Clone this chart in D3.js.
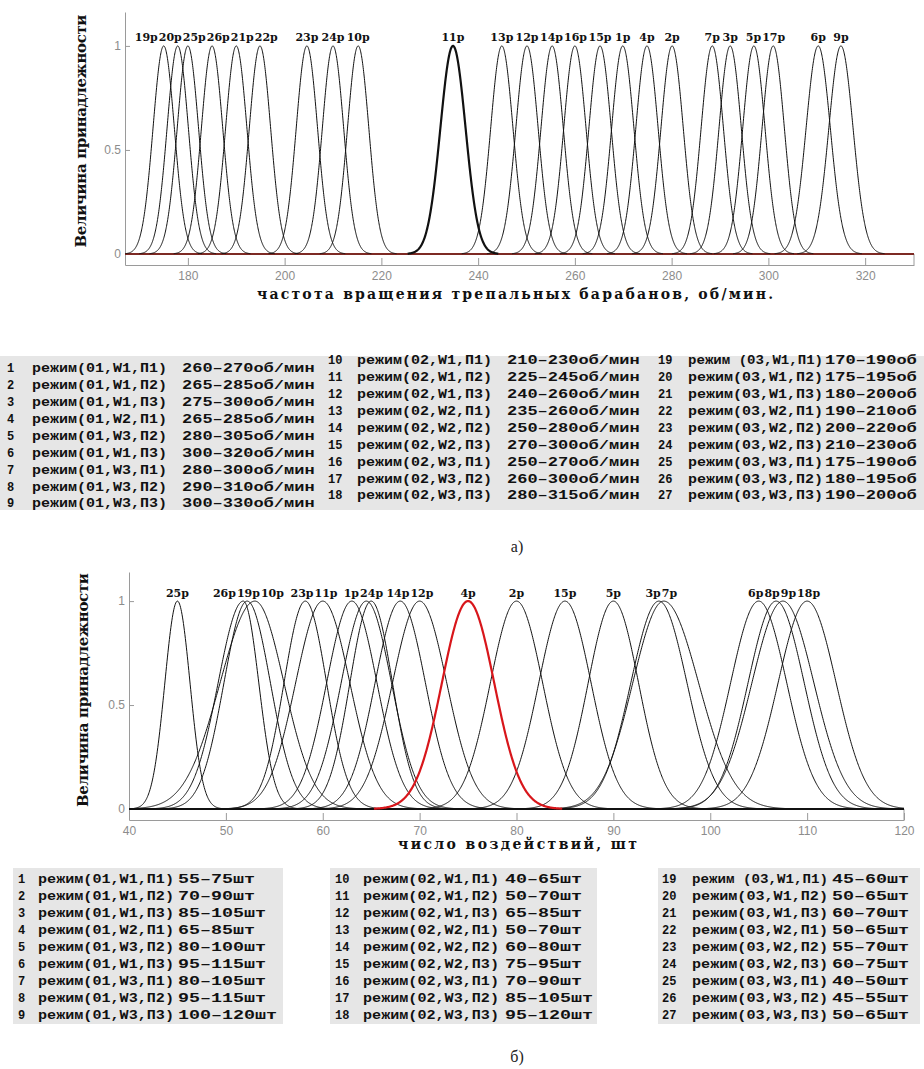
<!DOCTYPE html>
<html>
<head>
<meta charset="utf-8">
<script src="https://cdn.jsdelivr.net/npm/d3@7"></script>
<style>
  body { margin: 0; background: #fff; }
  svg { display: block; }
</style>
</head>
<body>
<svg id="fig" width="924" height="1069"></svg>
<script>
// ---------- panel а) : speed of beater drums ----------
const aLabels = ["19р","20р","25р","26р","21р","22р","23р","24р","10р","11р","13р","12р","14р",
                 "16р","15р","1р","4р","2р","7р","3р","5р","17р","6р","9р"];
const aCenters = [175,177.9,180,185,190,194.9,204.6,210,215.2,234.8,244.9,250.1,255.3,
                  260,265.2,269.9,274.9,280.1,288.4,292.1,297,301,310.3,315];
const aSigma = [2.2,2.2,2.2,2.2,2.2,2.2,2.2,2.2,2.2,2.6,2.3,2.3,2.3,
                2.3,2.3,2.3,2.3,2.3,2.3,2.3,2.3,2.3,2.5,2.5];
const aXTicks = [180,200,220,240,260,280,300,320];
const aRanges = ["260–270","265–285","275–300","265–285","280–305","300–320","280–300","290–310","300–330",
                 "210–230","225–245","240–260","235–260","250–280","270–300","250–270","260–300","280–315",
                 "170–190","175–195","180–200","190–210","200–220","210–230","175–190","180–195","190–200"];
// the scan cuts the third column at the page edge
const aUnits = ["об/мин","об/мин","об"];

// ---------- panel б) : number of impacts ----------
const bLabels = ["25р","26р","19р","10р","23р","11р","1р","","24р","14р","12р","4р","2р","15р",
                 "5р","3р","7р","6р","8р","9р","18р"];
const bCenters = [45,51.8,52.2,53,58.2,60,63,64.5,65,68,70,75,80,85,90,94.7,95.2,105,106.8,107.5,110];
const bSigmaL = [1.3,2.6,2.4,3.6,2.2,2.8,2.6,2.6,2.2,2.6,2.8,2.7,2.7,2.7,2.6,2.9,3.2,2.9,2.9,3.2,3.0];
const bSigmaR = [1.3,1.6,2.4,3.0,2.2,2.8,2.6,2.6,2.2,2.6,2.8,2.7,2.7,2.7,2.6,2.9,3.6,2.9,2.9,3.2,3.0];
const bXTicks = [40,50,60,70,80,90,100,110,120];
const bRanges = ["55–75","70–90","85–105","65–85","80–100","95–115","80–105","95–115","100–120",
                 "40–65","50–70","65–85","50–70","60–80","75–95","70–90","85–105","95–120",
                 "45–60","50–65","60–70","50–65","55–70","60–75","40–50","45–55","50–65"];
const bUnits = ["шт","шт","шт"];

// regimes shared by both tables
const modes = ["(01,W1,П1)","(01,W1,П2)","(01,W1,П3)","(01,W2,П1)","(01,W3,П2)","(01,W1,П3)","(01,W3,П1)","(01,W3,П2)","(01,W3,П3)",
               "(02,W1,П1)","(02,W1,П2)","(02,W1,П3)","(02,W2,П1)","(02,W2,П2)","(02,W2,П3)","(02,W3,П1)","(02,W3,П2)","(02,W3,П3)",
               " (03,W1,П1)","(03,W1,П2)","(03,W1,П3)","(03,W2,П1)","(03,W2,П2)","(03,W2,П3)","(03,W3,П1)","(03,W3,П2)","(03,W3,П3)"];

const svg = d3.select("#fig");

function bell(c, sl, sr) {
    return v => Math.exp(-Math.pow(v - c, 2) / (2 * Math.pow(v < c ? sl : sr, 2)));
}

// push overlapping labels apart, keeping clusters centred on their peaks
function spread(nodes, gap) {
    nodes.sort((a, b) => a.x - b.x);
    for (let it = 0; it < 400; it++) {
        let moved = false;
        for (let i = 1; i < nodes.length; i++) {
            let a = nodes[i - 1], b = nodes[i];
            let need = (a.w + b.w) / 2 + gap;
            let d = b.x - a.x;
            if (d < need - 0.01) {
                let s = (need - d) / 2;
                a.x -= s; b.x += s; moved = true;
            }
        }
        if (!moved) break;
    }
}

function drawPanel(p) {
    let x = d3.scaleLinear().domain(p.xDomain).range(p.xRange);
    let y = d3.scaleLinear().domain(p.yDomain).range(p.yRange);
    let g = svg.append("g");

    // axes (matlab-like, ticks inside)
    let xa = g.append("g")
        .attr("transform", "translate(0," + p.yRange[0] + ")")
        .call(d3.axisBottom(x).tickValues(p.xTicks).tickSizeInner(-7).tickSizeOuter(0).tickPadding(6));
    let ya = g.append("g")
        .attr("transform", "translate(" + p.xRange[0] + ",0)")
        .call(d3.axisLeft(y).tickValues([0, 0.5, 1]).tickSizeInner(-5).tickSizeOuter(0).tickPadding(4)
            .tickFormat(d => d === 0.5 ? "0.5" : d));
    [xa, ya].forEach(a => {
        a.select(".domain").attr("stroke", "#9a9a9a");
        a.selectAll(".tick line").attr("stroke", "#9a9a9a");
        a.selectAll(".tick text").attr("fill", "#8c8c8c")
            .style("font", "12px 'Liberation Sans', Arial, sans-serif");
    });

    // little box between y=0 and the bottom axis on the right
    g.append("line")
        .attr("x1", p.xRange[1]).attr("x2", p.xRange[1])
        .attr("y1", y(0)).attr("y2", p.yRange[0])
        .attr("stroke", "#9a9a9a");

    // membership functions
    let line = d3.line().x(d => x(d[0])).y(d => y(d[1]));
    let curves = p.centers.map((c, i) => {
        let sl = p.sigmaL[i], sr = p.sigmaR[i];
        let f = bell(c, sl, sr);
        let lo = Math.max(p.xDomain[0], c - 3.6 * sl);
        let hi = Math.min(p.xDomain[1], c + 3.6 * sr);
        let pts = d3.range(lo, hi, 0.05).map(v => [v, f(v)]);
        pts.push([hi, f(hi)]);
        return { label: p.labels[i], pts: pts, c: c };
    });

    g.append("line")
        .attr("x1", p.xRange[0]).attr("x2", p.xRange[1])
        .attr("y1", y(0)).attr("y2", y(0))
        .attr("stroke", p.baseColor).attr("stroke-width", 2);

    g.selectAll(".mf")
        .data(curves.filter(d => d.label !== p.special))
        .enter().append("path")
        .attr("class", "mf")
        .attr("d", d => line(d.pts))
        .attr("fill", "none")
        .attr("stroke", "#111")
        .attr("stroke-width", 1);

    g.selectAll(".mfs")
        .data(curves.filter(d => d.label === p.special))
        .enter().append("path")
        .attr("d", d => line(d.pts))
        .attr("fill", "none")
        .attr("stroke", p.specialColor)
        .attr("stroke-width", 2.2);

    // peak labels
    let labs = g.selectAll(".plab")
        .data(curves.filter(d => d.label !== ""))
        .enter().append("text")
        .attr("class", "plab")
        .attr("y", p.labelY)
        .attr("text-anchor", "middle")
        .style("font", "bold 11px 'DejaVu Serif', serif")
        .attr("fill", "#111")
        .text(d => d.label);
    let nodes = [];
    labs.each(function (d) { nodes.push({ d: d, x: x(d.c), w: this.getComputedTextLength(), el: this }); });
    spread(nodes, 1);
    nodes.forEach(n => d3.select(n.el).attr("x", n.x));

    // axis titles
    g.append("text")
        .attr("x", p.xTitle[0]).attr("y", p.xTitle[1])
        .attr("textLength", p.xTitle[2]).attr("lengthAdjust", "spacing")
        .style("font", "bold 14px 'DejaVu Serif', serif")
        .attr("fill", "#111")
        .text(p.xLabel);
    g.append("text")
        .attr("transform", "translate(" + p.yTitle[0] + "," + p.yTitle[1] + ") rotate(-90)")
        .attr("text-anchor", "middle")
        .attr("textLength", p.yTitle[2]).attr("lengthAdjust", "spacing")
        .style("font", "bold 15px 'DejaVu Serif', serif")
        .attr("fill", "#111")
        .text("Величина принадлежности");
}

function drawTable(t) {
    let g = svg.append("g");
    t.bg.forEach(r => {
        g.append("rect").attr("x", r[0]).attr("y", r[1]).attr("width", r[2]).attr("height", r[3])
            .attr("fill", "#e6e6e6");
    });
    let rows = modes.map((m, i) => {
        let col = Math.floor(i / 9);
        return { n: i + 1, mode: "режим" + m, range: t.ranges[i] + t.units[col], col: col, row: i % 9 };
    });
    let cell = g.selectAll(".row").data(rows).enter().append("g")
        .attr("transform", d => "translate(0," + (t.y0 + t.colDy[d.col] + d.row * t.dy) + ")");
    let font = "bold 12px 'Liberation Mono', 'DejaVu Sans Mono', monospace";
    cell.append("text")
        .attr("x", d => t.numX[d.col]).attr("dy", "0.35em")
        .style("font", font).attr("fill", "#111")
        .text(d => d.n);
    cell.append("text")
        .attr("x", d => t.modeX[d.col]).attr("dy", "0.35em")
        .attr("textLength", t.modeLen).attr("lengthAdjust", "spacingAndGlyphs")
        .style("font", font).attr("fill", "#111")
        .text(d => d.mode);
    cell.append("text")
        .attr("x", d => t.rangeX[d.col])
        .attr("dy", "0.35em")
        .attr("textLength", d => d.range.length * t.rangeW).attr("lengthAdjust", "spacingAndGlyphs")
        .style("font", font).attr("fill", "#111")
        .text(d => d.range);
}

drawPanel({
    xDomain: [167, 330.1], xRange: [125, 914],
    yDomain: [-0.053, 1.163], yRange: [265, 12],
    xTicks: aXTicks,
    labels: aLabels, centers: aCenters, sigmaL: aSigma, sigmaR: aSigma,
    special: "11р", specialColor: "#111", baseColor: "#7d2a24",
    labelY: 41,
    xLabel: "частота вращения трепальных барабанов, об/мин.",
    xTitle: [257, 299, 516],
    yTitle: [86, 131, 233]
});

drawTable({
    ranges: aRanges, units: aUnits,
    y0: 368, dy: 16.9, colDy: [0, -8, -8],
    numX: [7, 328, 658], modeX: [32, 357, 688], rangeX: [182, 507, 825],
    modeLen: 135, rangeW: 10.2,
    bg: [[0, 356, 924, 154]]
});

svg.append("text").attr("x", 517).attr("y", 552).attr("text-anchor", "middle")
    .style("font", "16px 'Liberation Serif', serif").attr("fill", "#222").text("а)");

drawPanel({
    xDomain: [40, 120], xRange: [129, 904],
    yDomain: [-0.053, 1.14], yRange: [820, 572],
    xTicks: bXTicks,
    labels: bLabels, centers: bCenters, sigmaL: bSigmaL, sigmaR: bSigmaR,
    special: "4р", specialColor: "#d8161b", baseColor: "#111",
    labelY: 597,
    xLabel: "число воздействий, шт",
    xTitle: [398, 849, 239],
    yTitle: [88, 690, 234]
});

drawTable({
    ranges: bRanges, units: bUnits,
    y0: 879, dy: 17, colDy: [0, 0, 0],
    numX: [18, 335, 662], modeX: [38, 363, 692], rangeX: [178, 505, 832],
    modeLen: 136, rangeW: 11,
    bg: [[13, 868, 270, 156], [330, 868, 267, 156], [658, 868, 262, 156]]
});

svg.append("text").attr("x", 517).attr("y", 1062).attr("text-anchor", "middle")
    .style("font", "16px 'Liberation Serif', serif").attr("fill", "#222").text("б)");
</script>
</body>
</html>
